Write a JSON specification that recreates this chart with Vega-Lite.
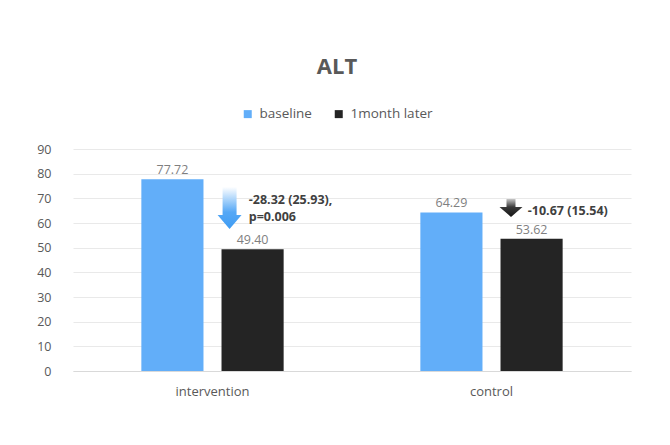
{
  "$schema": "https://vega.github.io/schema/vega-lite/v6.json",
  "description": "ALT baseline vs 1 month later",
  "width": 558,
  "height": 222,
  "autosize": "none",
  "padding": {"left": 73, "top": 149, "right": 39, "bottom": 74},
  "background": "white",
  "config": {
    "font": "Open Sans",
    "view": {"stroke": null}
  },
  "title": {
    "text": "ALT",
    "fontSize": 22,
    "fontWeight": "bold",
    "color": "#595959",
    "anchor": "middle",
    "dx": -15,
    "baseline": "alphabetic",
    "offset": 11
  },
  "encoding": {
    "x": {
      "field": "group",
      "type": "nominal",
      "sort": ["intervention", "control"],
      "scale": {"paddingInner": 0.49, "paddingOuter": 0.245},
      "axis": {
        "title": null,
        "labelAngle": 0,
        "ticks": false,
        "domain": true,
        "domainColor": "#d9d9d9",
        "labelPadding": 14,
        "labelFontSize": 13,
        "labelColor": "#595959",
        "grid": false
      }
    },
    "y": {
      "field": "value",
      "type": "quantitative",
      "scale": {"domain": [0, 90], "nice": false},
      "axis": {
        "title": null,
        "values": [0, 10, 20, 30, 40, 50, 60, 70, 80, 90],
        "labelOverlap": false,
        "grid": true,
        "gridColor": "#e9e9e9",
        "domain": false,
        "ticks": false,
        "labelPadding": 22,
        "labelFontSize": 12.5,
        "labelColor": "#595959"
      }
    }
  },
  "layer": [
    {
      "data": {
        "values": [
          {"group": "intervention", "series": "baseline", "value": 77.72},
          {"group": "intervention", "series": "1month later", "value": 49.40},
          {"group": "control", "series": "baseline", "value": 64.29},
          {"group": "control", "series": "1month later", "value": 53.62}
        ]
      },
      "encoding": {
        "xOffset": {
          "field": "series",
          "type": "nominal",
          "sort": ["baseline", "1month later"],
          "scale": {"paddingInner": 0.225, "paddingOuter": 0}
        }
      },
      "layer": [
        {
          "mark": {"type": "bar"},
          "encoding": {
            "color": {
              "field": "series",
              "type": "nominal",
              "scale": {
                "domain": ["baseline", "1month later"],
                "range": ["#62aef9", "#242424"]
              },
              "legend": {
                "title": null,
                "orient": "none",
                "direction": "horizontal",
                "legendX": 168,
                "legendY": -42,
                "symbolType": "square",
                "symbolSize": 64,
                "symbolStrokeWidth": 0,
                "labelFontSize": 13.5,
                "labelColor": "#595959",
                "labelOffset": 5,
                "columnPadding": 20,
                "padding": 0
              }
            }
          }
        },
        {
          "mark": {
            "type": "text",
            "baseline": "middle",
            "dy": -9,
            "fontSize": 12.5,
            "color": "#7f7f7f"
          },
          "encoding": {
            "text": {"field": "value", "type": "quantitative", "format": ".2f"}
          }
        }
      ]
    },
    {
      "data": {"values": [{"group": "intervention", "value": 66.1}]},
      "mark": {
        "type": "point",
        "filled": true,
        "size": 1764,
        "opacity": 1,
        "strokeWidth": 0,
        "shape": "M-0.333,-1L0.333,-1L0.333,0.333L0.571,0.333L0,1L-0.571,0.333L-0.333,0.333Z",
        "fill": {
          "gradient": "linear",
          "x1": 0, "y1": 0, "x2": 0, "y2": 1,
          "stops": [
            {"offset": 0, "color": "#ffffff"},
            {"offset": 0.6, "color": "#55a8f6"},
            {"offset": 1, "color": "#3f9cf3"}
          ]
        }
      },
      "encoding": {
        "x": {"field": "group", "type": "nominal", "sort": ["intervention", "control"], "bandPosition": 0.62}
      }
    },
    {
      "data": {"values": [{"group": "control", "value": 66.1}]},
      "mark": {
        "type": "point",
        "filled": true,
        "size": 576,
        "opacity": 1,
        "strokeWidth": 0,
        "shape": "M-0.375,-0.75L0.375,-0.75L0.375,-0.083L0.96,-0.083L0,0.75L-0.96,-0.083L-0.375,-0.083Z",
        "fill": {
          "gradient": "linear",
          "x1": 0, "y1": 0, "x2": 0, "y2": 1,
          "stops": [
            {"offset": 0, "color": "#c8c8c8"},
            {"offset": 0.45, "color": "#3a3a3a"},
            {"offset": 1, "color": "#141414"}
          ]
        }
      },
      "encoding": {
        "x": {"field": "group", "type": "nominal", "sort": ["intervention", "control"], "bandPosition": 0.637}
      }
    },
    {
      "data": {
        "values": [
          {"group": "intervention", "value": 69.5, "label": "-28.32 (25.93),"},
          {"group": "intervention", "value": 62.4, "label": "p=0.006"},
          {"group": "control", "value": 64.7, "label": "-10.67 (15.54)"}
        ]
      },
      "mark": {
        "type": "text",
        "align": "left",
        "baseline": "middle",
        "fontSize": 12.5,
        "fontWeight": "bold",
        "color": "#404040"
      },
      "encoding": {
        "x": {"field": "group", "type": "nominal", "sort": ["intervention", "control"], "bandPosition": 0.755},
        "text": {"field": "label"}
      }
    }
  ]
}
